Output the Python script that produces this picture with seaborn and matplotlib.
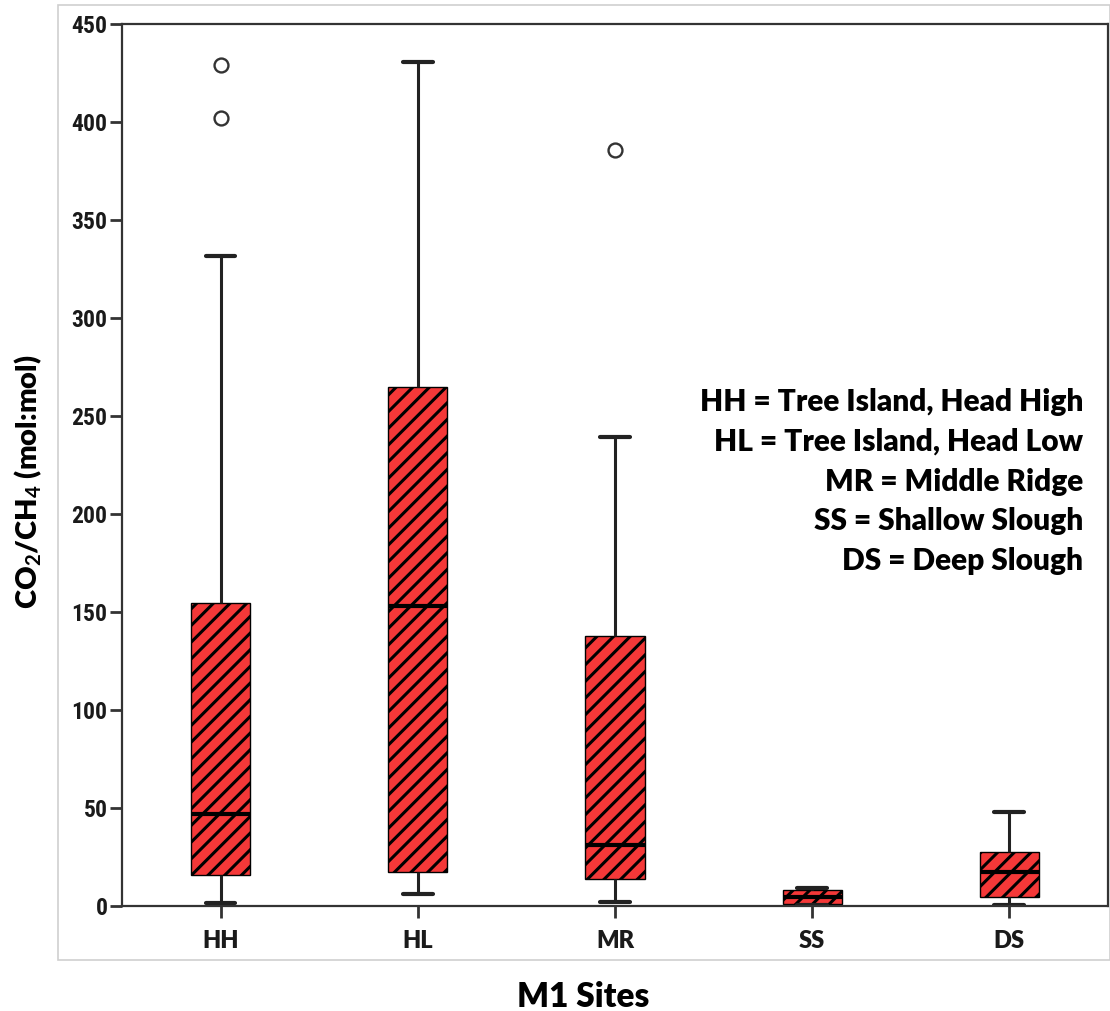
import matplotlib
matplotlib.use("Agg")
import matplotlib.pyplot as plt
import pandas as pd
import seaborn as sns
from matplotlib import font_manager
from matplotlib.patches import Rectangle

# box summary values (CO2/CH4, mol:mol)
sites = ["HH", "HL", "MR", "SS", "DS"]
whisker_low = [1.7, 6.0, 2.0, 0.3, 0.3]
q1 = [15.8, 17.3, 13.8, 0.8, 4.7]
median = [47.0, 153.0, 31.0, 4.6, 17.5]
q3 = [154.6, 265.0, 138.0, 8.2, 27.7]
whisker_high = [331.6, 430.6, 239.5, 9.3, 48.0]

# outliers
outlier_site = ["HH", "HH", "MR"]
outlier_value = [429.0, 402.0, 386.0]

legend_lines = [
    "HH = Tree Island, Head High",
    "HL = Tree Island, Head Low",
    "MR = Middle Ridge",
    "SS = Shallow Slough",
    "DS = Deep Slough",
]

rows = []
for i, s in enumerate(sites):
    for v in [whisker_low[i], q1[i], median[i], q3[i], whisker_high[i]]:
        rows.append({"site": s, "ratio": v})
df = pd.DataFrame(rows)
df_out = pd.DataFrame({"site": outlier_site, "ratio": outlier_value})


def pick_font(names):
    for n in names:
        try:
            font_manager.findfont(font_manager.FontProperties(family=n),
                                  fallback_to_default=False)
            return n
        except ValueError:
            pass
    return "DejaVu Sans"


narrow = pick_font(["Liberation Sans Narrow", "DejaVu Sans Condensed", "Roboto Condensed", "Lato"])
main_font = ["Lato", "DejaVu Sans"]

sns.set_theme(style="white")
plt.rcParams["hatch.linewidth"] = 2.2
plt.rcParams["hatch.color"] = "black"
plt.rcParams["mathtext.fontset"] = "custom"
plt.rcParams["mathtext.rm"] = "Lato:bold"
plt.rcParams["mathtext.bf"] = "Lato:bold"
plt.rcParams["mathtext.default"] = "bf"

fig = plt.figure(figsize=(11.1, 10.11), dpi=100)
ax = fig.add_axes([0.110, 0.104, 0.888, 0.872])

# light outer frame like the SPSS chart border
fig.patches.append(Rectangle((58 / 1110, 1 - 960 / 1011), 1 - 58 / 1110, (960 - 5) / 1011,
                             transform=fig.transFigure, fill=False,
                             edgecolor="#cfcfcf", linewidth=1.2, zorder=0))

sns.boxplot(data=df, x="site", y="ratio", order=sites, whis=(0, 100),
            width=0.30, color="#F43838", saturation=1, linecolor="black",
            linewidth=1.0, fliersize=0, ax=ax,
            medianprops={"linewidth": 3.0, "color": "black"},
            whiskerprops={"linewidth": 2.2, "color": "#222222"},
            capprops={"linewidth": 3.0, "color": "#222222"})

for p in ax.patches:
    p.set_hatch("//")
    p.set_edgecolor("black")

sns.stripplot(data=df_out, x="site", y="ratio", order=sites, jitter=False,
              color="white", edgecolor="#333333", linewidth=1.7, size=10,
              ax=ax, zorder=5)

ax.set_xlim(-0.5, 4.5)
ax.set_ylim(0, 450)
ax.set_yticks(range(0, 451, 50))

for side in ["left", "right", "top", "bottom"]:
    ax.spines[side].set_visible(True)
    ax.spines[side].set_color("#333333")
    ax.spines[side].set_linewidth(1.6)

ax.tick_params(axis="both", direction="out", length=8.5, width=2.0,
               color="#333333", left=True, bottom=True)
ax.tick_params(axis="y", pad=2)
ax.tick_params(axis="x", pad=9)

for lab in ax.get_yticklabels():
    lab.set_fontfamily([narrow, "DejaVu Sans"])
    lab.set_fontweight("bold")
    lab.set_fontsize(17)
    lab.set_color("#1a1a1a")
for lab in ax.get_xticklabels():
    lab.set_fontfamily(main_font)
    lab.set_fontweight("heavy")
    lab.set_fontsize(17)
    lab.set_color("#1a1a1a")

ax.set_xlabel("M1 Sites", fontsize=24, fontweight="heavy",
              family=main_font, color="black")
ax.xaxis.set_label_coords(0.4677, -0.085)
ax.set_ylabel(r"CO$_2$/CH$_4$ (mol:mol)", fontsize=21, fontweight="heavy",
              family=main_font, color="black")
ax.yaxis.set_label_coords(-0.079, 0.481)

for k, line in enumerate(legend_lines):
    ax.text(0.975, 0.5714 - k * 0.04507, line, transform=ax.transAxes,
            ha="right", va="center", fontsize=21.5, fontweight="heavy",
            family=main_font, color="black")

fig.savefig("out.png", dpi=100, facecolor="white")
